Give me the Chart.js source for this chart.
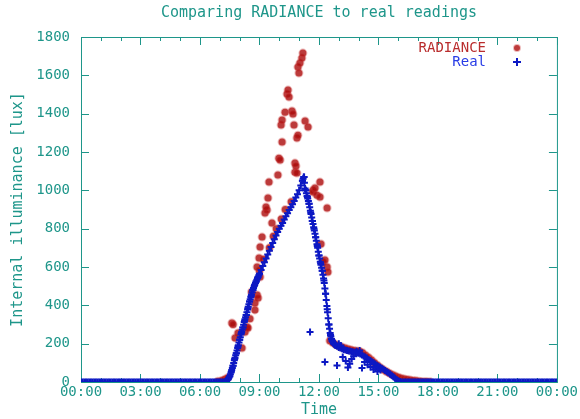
<!DOCTYPE html>
<html>
<head>
<meta charset="utf-8">
<script src="https://cdn.jsdelivr.net/npm/chart.js@4.4.1/dist/chart.umd.min.js"></script>
<style>
  body { margin: 0; background: #fff; }
  canvas { display: block; }
</style>
</head>
<body>
<canvas id="lightChart" width="580" height="419"></canvas>
<script>
// Real readings, one value every 5 minutes from 00:00 to 24:00 (one row = one hour)
const STEP_MIN = 5;
const realValues = [
  0,0,0,0,0,0,0,0,0,0,0,0,            // 00
  0,0,0,0,0,0,0,0,0,0,0,0,            // 01
  0,0,0,0,0,0,0,0,0,0,0,0,            // 02
  0,0,0,0,0,0,0,0,0,0,0,0,            // 03
  0,0,0,0,0,0,0,0,0,0,0,0,            // 04
  0,0,0,0,0,0,0,0,0,0,0,0,            // 05
  0,0,0,0,0,0,0,0,0,0,0,0,            // 06
  0,0,0,0,5,15,30,55,85,120,150,185,  // 07
  220,255,285,320,350,385,420,450,480,505,525,545,   // 08
  565,585,605,625,645,665,685,705,725,745,765,782,   // 09
  800,815,830,848,865,880,898,912,928,945,962,980,   // 10
  1000,1025,1050,1070,1000,965,930,885,840,800,755,710, // 11
  660,620,580,530,460,380,300,245,215,200,192,186,   // 12
  180,177,173,170,167,164,162,160,158,156,154,152,   // 13
  150,146,141,136,131,125,118,112,106,100,94,88,     // 14
  82,77,72,66,60,54,48,42,35,28,20,13,               // 15
  7,3,0,0,0,0,0,0,0,0,0,0,            // 16
  0,0,0,0,0,0,0,0,0,0,0,0,            // 17
  0,0,0,0,0,0,0,0,0,0,0,0,            // 18
  0,0,0,0,0,0,0,0,0,0,0,0,            // 19
  0,0,0,0,0,0,0,0,0,0,0,0,            // 20
  0,0,0,0,0,0,0,0,0,0,0,0,            // 21
  0,0,0,0,0,0,0,0,0,0,0,0,            // 22
  0,0,0,0,0,0,0,0,0,0,0,0,            // 23
  0                                   // 24
];

// the steep parts were logged more often: every 2 minutes
const DENSE_STEP_MIN = 2;
const riseStartHour = 7 + 20 / 60;   // 07:20
const riseValues = [
  5, 9, 13, 18, 24, 30, 40, 50, 62, 73,
  85, 99, 113, 127, 139, 150, 164, 178, 192, 206,
  220, 234, 248, 261, 273, 285, 299, 313, 327, 338,
  350, 364, 378, 392, 406, 420, 432, 444, 456, 468,
  480, 490, 500, 509, 517, 525, 533, 541, 549, 557,
  565
];
const fallStartHour = 11 + 10 / 60;  // 11:10
const fallValues = [
  1050, 1060, 1070, 1040, 1010, 1000, 985, 970, 958, 945,
  930, 912, 894, 876, 858, 840, 824, 808, 791, 773,
  755, 737, 719, 701, 680, 660, 644, 628, 612, 596,
  580, 560, 540, 516, 488, 460, 428, 396, 364, 332,
  300, 278, 256, 237, 224, 215, 209, 203, 198, 195,
  192
];

// stray real readings (hours, lux)
const realExtraTimes  = [11.55, 12.30, 12.91, 13.0, 13.1, 13.2, 13.35, 13.46, 13.55, 13.65, 13.75, 13.9, 14.05, 14.17, 14.3, 14.45, 14.6, 14.75, 14.85, 14.95, 15.1];
const realExtraValues = [261,   104,   86,    200,  190,  130,  110,   76,    95,    120,   135,   160,  165,   73,    105,  90,    78,   65,    75,    55,    62];

// RADIANCE simulation (hours, lux)
const radianceTimes = [
  6.9, 7.1, 7.25, 7.4,
  7.61, 7.67, 7.77, 7.92, 8.12, 8.27, 8.37, 8.42, 8.52, 8.6,
  8.77, 8.77, 8.88, 8.93, 9.0, 9.03, 8.98, 8.88, 9.03, 9.13,
  9.2, 9.28, 9.38, 9.43, 9.33, 9.48, 9.5, 9.63, 9.7, 9.85,
  9.93, 9.98, 10.04, 10.09, 10.1, 10.14, 10.14, 10.29, 10.3, 10.39,
  10.44, 10.49, 10.6, 10.64, 10.69, 10.74, 10.79, 10.79, 10.84, 10.89,
  10.94, 10.89, 10.94, 10.99, 11.04, 11.14, 11.19, 11.30, 11.45, 11.70,
  11.70, 11.80, 11.90, 12.05, 12.05, 12.1, 12.2, 12.30, 12.41, 12.41, 12.45,
  12.55, 12.7, 12.85, 13.0, 13.15, 13.3, 13.45, 13.6, 13.75, 13.9,
  14.05, 14.2, 14.35, 14.5, 14.65, 14.8, 14.95, 15.1, 15.25, 15.4,
  15.55, 15.7, 15.85, 16.0, 16.15, 16.3, 16.45, 16.6, 16.75, 16.9,
  17.05, 17.2, 17.4, 17.6
];
const radianceValues = [
  4, 8, 14, 22,
  308, 300, 230, 256, 177, 261, 287, 282, 330, 470,
  376, 412, 454, 438, 580, 548, 647, 600, 704, 756,
  640, 882, 897, 960, 913, 1043, 700, 829, 760, 800,
  1080, 1168, 1158, 1341, 850, 1367, 1252, 1408, 900, 1502,
  1523, 1487, 940, 1414, 1398, 1341, 1142, 1095, 1127, 1273,
  1288, 1090, 1643, 1612, 1664, 1690, 1716, 1362, 1330, 1001,
  991, 1012, 975, 1043, 965, 720, 626, 636, 908, 600, 574,
  215, 205, 195, 188, 182, 178, 172, 168, 165, 162,
  160, 152, 140, 128, 115, 100, 88, 75, 64, 55,
  46, 38, 31, 25, 20, 16, 13, 10, 8, 6,
  4, 3, 2, 1
];

const xTickHours = [0, 3, 6, 9, 12, 15, 18, 21, 24];

const TEAL = "#1e968a";
const MONO = "'DejaVu Sans Mono', 'Liberation Mono', monospace";
const RAD_FILL = "rgba(170, 10, 10, 0.8)";
const RAD_EDGE = "rgba(200, 60, 60, 0.35)";
const REAL_COLOR = "rgb(12, 24, 195)";

let realPoints = realValues.map((v, i) => ({ x: i * STEP_MIN / 60, y: v }));
riseValues.forEach((v, i) => realPoints.push({ x: riseStartHour + i * DENSE_STEP_MIN / 60, y: v }));
fallValues.forEach((v, i) => realPoints.push({ x: fallStartHour + i * DENSE_STEP_MIN / 60, y: v }));
realExtraTimes.forEach((t, i) => realPoints.push({ x: t, y: realExtraValues[i] }));
let radiancePoints = radianceTimes.map((t, i) => ({ x: t, y: radianceValues[i] }));

// gnuplot-like frame: full border with inward ticks, title and legend drawn by hand
const gnuplotLook = {
    id: "gnuplotLook",
    beforeDatasetsDraw(chart) {
        const ctx = chart.ctx;
        const a = chart.chartArea;
        const xs = chart.scales.x, ys = chart.scales.y;
        ctx.save();
        ctx.strokeStyle = TEAL;
        ctx.lineWidth = 1;
        ctx.strokeRect(a.left + 0.5, a.top + 0.5, a.right - a.left, a.bottom - a.top);
        ctx.beginPath();
        for (let h = 0; h <= 24; h++) {
            const px = Math.round(xs.getPixelForValue(h)) + 0.5;
            const len = h % 3 === 0 ? 8 : 4;
            ctx.moveTo(px, a.bottom); ctx.lineTo(px, a.bottom - len);
            ctx.moveTo(px, a.top); ctx.lineTo(px, a.top + len);
        }
        for (let v = 0; v <= 1800; v += 200) {
            const py = Math.round(ys.getPixelForValue(v)) + 0.5;
            ctx.moveTo(a.left, py); ctx.lineTo(a.left + 8, py);
            ctx.moveTo(a.right, py); ctx.lineTo(a.right - 8, py);
        }
        ctx.stroke();
        ctx.restore();
    },
    afterDraw(chart) {
        const ctx = chart.ctx;
        const a = chart.chartArea;
        ctx.save();
        ctx.font = "15px " + MONO;
        ctx.fillStyle = TEAL;
        ctx.textAlign = "center";
        ctx.textBaseline = "middle";
        ctx.fillText("Comparing RADIANCE to real readings", (a.left + a.right) / 2, 13);

        ctx.font = "14px " + MONO;
        ctx.textAlign = "right";
        const ds = chart.data.datasets;
        // RADIANCE entry
        ctx.fillStyle = "rgb(185, 45, 45)";
        ctx.fillText(ds[0].label, 486, 48);
        ctx.beginPath();
        ctx.arc(517, 48, 3, 0, Math.PI * 2);
        ctx.fillStyle = RAD_FILL;
        ctx.fill();
        ctx.strokeStyle = RAD_EDGE;
        ctx.lineWidth = 2;
        ctx.stroke();
        // Real entry
        ctx.fillStyle = "rgb(40, 60, 230)";
        ctx.fillText(ds[1].label, 486, 62);
        ctx.strokeStyle = REAL_COLOR;
        ctx.lineWidth = 2;
        ctx.beginPath();
        ctx.moveTo(513, 62); ctx.lineTo(521, 62);
        ctx.moveTo(517, 58); ctx.lineTo(517, 66);
        ctx.stroke();
        ctx.restore();
    }
};

const CHART = document.getElementById("lightChart");

let lightChart = new Chart(CHART, {
    type: 'scatter',
    data: {
        datasets: [
            {
                label: "RADIANCE",
                data: radiancePoints,
                order: 1,
                pointStyle: 'circle',
                pointRadius: 3.5,
                pointBorderWidth: 2,
                pointBackgroundColor: RAD_FILL,
                pointBorderColor: RAD_EDGE,
                showLine: false
            },
            {
                label: "Real",
                data: realPoints,
                order: 0,
                pointStyle: 'cross',
                pointRadius: 3.5,
                pointBorderWidth: 2,
                pointBackgroundColor: REAL_COLOR,
                pointBorderColor: REAL_COLOR,
                showLine: false
            }
        ]
    },
    options: {
        responsive: false,
        animation: false,
        devicePixelRatio: 1,
        layout: { padding: { top: 37, right: 23, left: 0, bottom: 0 } },
        plugins: {
            legend: { display: false },
            title: { display: false },
            tooltip: { enabled: false }
        },
        scales: {
            x: {
                type: 'linear',
                min: 0,
                max: 24,
                afterBuildTicks: (scale) => { scale.ticks = xTickHours.map(h => ({ value: h })); },
                afterFit: (scale) => { scale.height = 37; },
                grid: { display: false, drawTicks: false },
                border: { display: false },
                ticks: {
                    autoSkip: false,
                    maxRotation: 0,
                    padding: 2,
                    color: TEAL,
                    font: { family: MONO, size: 14 },
                    callback: (v) => String(v % 24).padStart(2, '0') + ":00"
                },
                title: {
                    display: true,
                    text: "Time",
                    color: TEAL,
                    font: { family: MONO, size: 15 },
                    padding: { top: 0, bottom: 0 }
                }
            },
            y: {
                min: 0,
                max: 1800,
                afterFit: (scale) => { scale.width = 81; },
                grid: { display: false, drawTicks: false },
                border: { display: false },
                ticks: {
                    stepSize: 200,
                    padding: 11,
                    color: TEAL,
                    font: { family: MONO, size: 14 },
                    callback: (v) => String(v)
                },
                title: {
                    display: true,
                    text: "Internal illuminance [lux]",
                    color: TEAL,
                    font: { family: MONO, size: 15 },
                    padding: { top: 9, bottom: 0 }
                }
            }
        }
    },
    plugins: [gnuplotLook]
});
</script>
</body>
</html>
